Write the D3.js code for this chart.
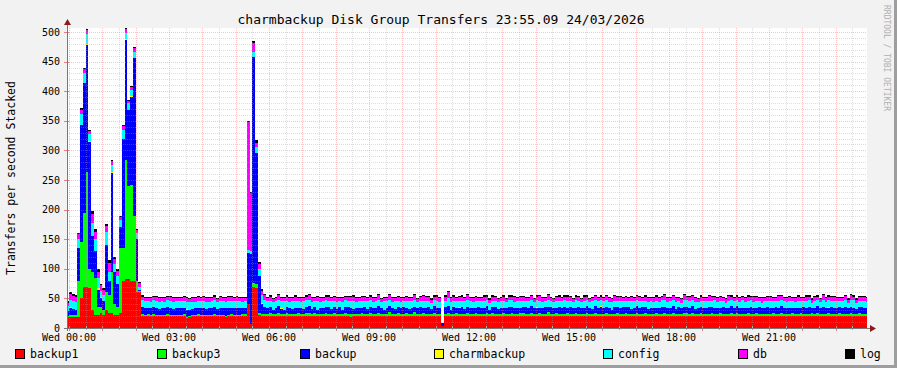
<!DOCTYPE html>
<html>
<head>
<meta charset="utf-8">
<script src="https://cdn.jsdelivr.net/npm/d3@7"></script>
<style>
  body { margin: 0; background: #f2f2f2; }
  svg { display: block; font-family: "DejaVu Sans Mono", monospace; }
</style>
</head>
<body>
<svg width="897" height="368"></svg>
<script>
// 5 minute steps, first one starts 5 min before Wed 00:00
const firstStep = -5;
const stepMinutes = 5;

const seriesNames = ["backup1", "backup3", "backup", "charmbackup", "config", "db", "log"];
const seriesColors = ["#ff0000", "#00ff00", "#0000ff", "#ffff00", "#00ffff", "#ff00ff", "#000000"];

const backup1 = [
  18,19,19,19,19,51,70,70,68,30,22,22,25,22,30,25,25,22,22,25,80,82,82,80,80,60,60,
  20,20,21,20,20,20,20,20,20,20,20,20,20,20,20,20,17,18,20,20,20,20,20,20,20,20,20,20,20,20,19,20,20,20,20,20,20,
  20,40,6,70,68,22,20,20,
  20,20,20,20,20,20,20,20,20,20,20,20,
  20,20,20,21,20,20,20,20,20,20,20,20,
  20,20,20,20,20,20,19,20,20,20,20,20,
  20,20,20,20,20,20,20,20,20,20,20,20,
  20,20,20,20,20,21,20,20,20,20,20,20,
  20,20,20,4,20,20,20,20,20,20,20,20,
  20,20,20,20,20,20,20,20,20,20,20,20,
  20,20,20,20,20,20,20,20,21,20,20,20,
  20,20,20,20,20,20,20,20,20,20,20,20,
  20,20,20,20,20,20,20,20,20,20,20,20,
  20,21,20,20,20,20,20,20,20,20,20,20,
  20,20,20,20,20,20,20,20,20,20,20,20,
  20,20,20,20,20,20,20,21,20,20,20,20,
  20,20,20,20,20,20,20,20,20,20,20,20,
  20,20,20,20,20,20,20,20,20,20,20,20,
  20,20,20,20,21,20,20,20,20,20,20,20,
  20,20,20,20,20,20,20,20,20,20,20,20,
  20,20,20,20,20,20,20,20,20,20,20,20,
  20
];

const backup3 = [
  2,3,3,3,61,94,124,193,32,65,63,13,10,8,30,30,70,18,13,110,55,202,158,161,110,20,2,
  3,2,2,2,3,2,2,2,2,3,2,2,2,2,2,3,2,2,2,2,3,2,2,2,2,2,3,2,2,2,2,2,3,2,2,2,3,
  3,0,0,6,6,4,4,4,
  4,5,3,4,6,3,4,5,3,4,4,5,
  3,4,6,4,3,5,4,3,4,6,3,4,
  5,3,4,4,6,3,5,4,3,4,5,3,
  4,6,3,4,5,3,4,4,7,3,4,5,
  3,4,5,4,3,6,4,3,5,4,4,3,
  5,4,3,0,4,6,3,4,5,3,4,4,
  6,3,4,5,3,4,4,6,3,5,4,3,
  4,5,3,4,6,4,3,5,4,3,4,6,
  3,4,5,3,4,7,4,3,5,4,3,4,
  5,4,3,6,4,3,4,5,3,4,6,3,
  4,3,5,4,3,4,6,4,3,5,4,4,
  3,6,4,3,5,4,3,4,5,3,4,6,
  4,3,5,4,4,3,6,4,3,5,4,3,
  5,4,3,4,6,3,4,5,4,3,4,5,
  3,5,4,3,4,6,4,3,5,4,3,4,
  4,3,6,4,3,5,4,4,3,6,4,3,
  5,4,3,4,5,3,6,4,3,4,5,4,
  3,4,5,3,4,4,6,3,4,5,3,4,
  4
];

const backup = [
  8,12,10,8,55,198,220,215,214,60,45,30,15,15,80,25,167,55,40,35,185,203,128,149,266,70,3,
  12,11,10,11,12,11,10,11,11,12,11,10,11,12,11,10,12,11,10,11,11,12,11,10,11,11,12,10,11,11,12,11,10,11,12,11,10,
  10,87,119,382,221,62,16,11,
  9,11,8,10,12,9,7,10,11,8,10,9,
  11,8,10,12,9,10,7,11,9,10,12,8,
  10,9,11,7,10,12,9,8,11,10,9,12,
  8,10,11,9,12,10,7,9,11,10,8,11,
  10,12,9,8,11,9,10,12,8,10,11,9,
  12,9,10,5,11,12,8,12,9,10,11,8,
  9,11,10,8,12,10,9,11,7,10,12,9,
  10,8,11,12,9,10,11,8,10,12,9,11,
  11,9,8,10,12,9,11,10,8,11,10,12,
  9,12,10,8,11,10,9,12,10,8,11,10,
  12,9,11,10,8,11,10,9,12,10,11,8,
  10,11,9,12,10,8,11,10,9,11,12,10,
  9,10,12,8,11,10,9,11,10,12,8,10,
  11,9,10,12,9,11,10,8,11,10,9,12,
  10,12,9,11,10,8,12,10,9,11,10,9,
  12,10,8,11,10,12,9,10,11,8,10,11,
  9,11,10,12,8,10,11,9,12,10,9,11,
  10,9,11,10,12,9,10,11,8,10,12,10,
  9
];

const charmbackup = [
  0,1,0,0,0,0,0,2,2,0,0,2,2,0,0,0,2,0,0,0,0,2,0,2,0,0,0,
  0,0,0,0,0,0,0,0,0,0,0,0,0,0,0,0,1,0,0,0,0,0,0,0,0,0,0,0,0,0,0,0,1,0,0,0,0,
  0,0,0,0,0,0,2,0,
  0,0,0,0,0,1,0,0,0,0,0,0,
  0,0,0,0,0,0,0,0,0,0,0,0,
  0,0,0,0,0,0,1,0,0,0,0,0,
  0,0,0,0,0,0,0,0,0,0,0,0,
  0,0,0,0,0,0,0,0,0,0,0,0,
  0,0,0,0,0,0,0,0,0,2,0,0,
  1,0,0,0,0,0,0,0,0,0,0,0,
  0,0,0,0,0,0,0,0,0,0,0,0,
  0,2,0,0,0,0,0,0,0,0,0,0,
  0,0,0,0,0,0,0,0,0,0,0,0,
  1,0,0,0,0,0,0,0,0,0,0,0,
  0,0,0,0,0,0,0,0,0,0,0,0,
  0,0,0,0,0,0,0,0,0,0,0,0,
  0,1,0,0,0,0,0,0,0,0,0,0,
  0,0,0,0,0,0,0,1,0,0,0,0,
  0,0,0,0,0,0,0,0,0,0,0,0,
  0,0,0,0,0,0,0,0,0,0,1,0,
  0,1,0,0,0,0,0,0,0,0,0,0,
  0
];

const config = [
  10,13,14,14,15,19,17,16,11,23,20,18,10,10,22,15,11,13,13,12,15,10,12,10,11,10,5,
  12,13,12,11,12,13,12,12,11,12,13,12,12,11,12,12,12,13,12,11,12,12,13,12,11,12,12,12,13,12,11,12,12,13,12,12,11,
  12,5,5,8,10,12,13,13,
  12,10,13,11,10,12,14,11,10,13,12,11,
  10,13,11,10,12,11,14,10,12,11,10,13,
  11,12,10,13,11,10,12,13,10,11,12,10,
  13,11,10,12,10,11,14,12,10,11,13,10,
  11,10,12,13,11,12,10,11,13,12,10,11,
  10,12,11,0,11,13,13,10,12,11,10,13,
  12,11,10,12,10,11,12,10,13,11,10,12,
  11,13,10,11,12,10,11,13,10,11,12,10,
  10,12,13,11,10,12,10,11,13,10,12,11,
  12,10,11,13,10,11,12,10,11,13,10,12,
  10,12,11,10,13,11,10,12,10,11,10,13,
  12,10,13,11,10,12,11,10,12,10,11,11,
  11,13,10,12,11,10,12,11,13,10,12,11,
  10,11,12,10,11,13,10,12,11,10,13,10,
  12,10,11,13,10,12,11,10,12,11,10,12,
  10,12,11,10,12,11,13,10,11,12,10,12,
  11,10,13,11,10,12,10,11,12,10,13,11,
  12,11,10,12,11,10,12,13,11,10,11,12,
  11
];

const db = [
  5,9,8,8,8,7,6,7,5,15,12,10,10,10,10,15,7,8,8,6,6,6,3,5,6,5,6,
  6,5,6,6,5,6,7,6,6,5,6,6,5,6,6,7,6,5,6,6,6,5,6,6,7,6,6,5,6,6,6,7,6,5,6,6,6,
  6,216,98,15,8,8,8,8,
  6,7,5,6,8,5,6,7,6,5,7,6,
  7,5,6,8,6,5,7,6,5,6,8,5,
  6,7,5,6,5,7,6,8,6,5,6,7,
  5,6,7,6,8,5,6,5,7,6,5,6,
  7,5,6,5,6,7,5,6,8,6,7,5,
  6,8,6,0,7,10,6,7,5,6,8,6,
  7,5,6,7,5,6,8,6,5,7,6,5,
  6,7,5,6,6,8,5,6,7,5,6,7,
  5,6,8,6,5,7,6,5,6,8,5,6,
  7,6,5,6,7,5,8,6,5,6,7,6,
  6,5,7,6,5,8,6,7,5,6,6,7,
  5,7,6,5,8,6,5,6,7,6,5,8,
  6,5,7,6,5,6,8,5,6,7,6,5,
  7,6,5,8,6,5,6,7,5,6,8,6,
  5,6,7,5,6,7,5,8,6,5,7,6,
  6,7,5,6,8,6,5,6,7,5,6,7,
  6,5,7,6,5,7,6,5,8,6,5,6,
  7,6,5,6,7,5,8,6,5,7,6,6,
  6
];

const log = [
  2,3,3,3,3,2,2,2,2,4,5,5,3,3,4,5,2,4,4,2,2,2,2,2,2,2,2,
  2,2,2,2,2,2,2,2,2,2,2,2,2,2,2,2,2,2,2,2,2,2,2,2,2,2,2,2,2,2,2,2,2,2,2,2,2,
  2,2,2,3,4,4,3,2,
  2,2,2,2,2,2,2,2,2,2,2,2,
  2,2,2,2,2,2,2,2,2,2,2,2,
  2,2,2,2,2,2,2,2,2,2,2,2,
  2,2,2,2,2,2,2,2,2,2,2,2,
  2,2,2,2,2,2,2,2,2,2,2,2,
  2,2,2,0,2,2,2,2,2,2,2,2,
  2,2,2,2,2,2,2,2,2,2,2,2,
  2,2,2,2,2,2,2,2,2,2,2,2,
  2,2,2,2,2,2,2,2,2,2,2,2,
  2,2,2,2,2,2,2,2,2,2,2,2,
  2,2,2,2,2,2,2,2,2,2,2,2,
  2,2,2,2,2,2,2,2,2,2,2,2,
  2,2,2,2,2,2,2,2,2,2,2,2,
  2,2,2,2,2,2,2,2,2,2,2,2,
  2,2,2,2,2,2,2,2,2,2,2,2,
  2,2,2,2,2,2,2,2,2,2,2,2,
  2,2,2,2,2,2,2,2,2,2,2,2,
  2,2,2,2,2,2,2,2,2,2,2,2,
  2
];

const yTickValues = [0, 50, 100, 150, 200, 250, 300, 350, 400, 450, 500];
const xLabelHours = [0, 3, 6, 9, 12, 15, 18, 21];
const xLabelDay = "Wed";

const svg = d3.select("svg");
const W = 897, H = 368;
const plot = { left: 67, right: 867, top: 28, bottom: 328 };

// background + frame
svg.append("rect").attr("width", W).attr("height", H).attr("fill", "#f2f2f2");
svg.append("rect").attr("x", W - 3).attr("y", 0).attr("width", 3).attr("height", H).attr("fill", "#9e9e9e");
svg.append("rect").attr("x", 0).attr("y", H - 3).attr("width", W).attr("height", 3).attr("fill", "#9e9e9e");
svg.append("rect")
  .attr("x", plot.left).attr("y", plot.top)
  .attr("width", plot.right - plot.left).attr("height", plot.bottom - plot.top)
  .attr("fill", "#ffffff");

const x = d3.scaleLinear().domain([-3.6, 1436.4]).range([plot.left, plot.right]);
const y = d3.scaleLinear().domain([0, 300 / 0.592]).range([plot.bottom, plot.top]);

const columns = [backup1, backup3, backup, charmbackup, config, db, log];
const n = backup1.length;
const rows = d3.range(n + 1).map(k => {
  const i = Math.min(k, n - 1);
  const row = { t: firstStep + k * stepMinutes };
  seriesNames.forEach((name, s) => { row[name] = columns[s][i]; });
  return row;
});
const stacked = d3.stack().keys(seriesNames)(rows);

svg.append("clipPath").attr("id", "plotclip")
  .append("rect")
  .attr("x", plot.left).attr("y", 0)
  .attr("width", plot.right - plot.left).attr("height", plot.bottom);

const area = d3.area()
  .curve(d3.curveStepAfter)
  .x(d => x(d.data.t))
  .y0(d => y(d[0]))
  .y1(d => y(d[1]));

svg.append("g")
  .attr("clip-path", "url(#plotclip)")
  .selectAll("path")
  .data(stacked)
  .join("path")
  .attr("d", area)
  .attr("fill", (d, i) => seriesColors[i])
  .attr("shape-rendering", "crispEdges");

// grid drawn on top of the data, like rrdtool
const grid = svg.append("g").attr("shape-rendering", "crispEdges");
const minorCol = "rgba(160,160,160,0.35)";
const majorCol = "rgba(255,100,100,0.4)";

d3.range(10, 501, 10).forEach(v => {
  const yy = Math.round(y(v)) + 0.5;
  grid.append("line")
    .attr("x1", plot.left).attr("x2", plot.right)
    .attr("y1", yy).attr("y2", yy)
    .attr("stroke", v % 50 === 0 ? majorCol : minorCol)
    .attr("stroke-dasharray", "1,1");
});

d3.range(0, 1436, 30).forEach(t => {
  const xx = Math.round(x(t)) + 0.5;
  const major = t % 60 === 0;
  grid.append("line")
    .attr("x1", xx).attr("x2", xx)
    .attr("y1", plot.top).attr("y2", plot.bottom)
    .attr("stroke", major ? majorCol : minorCol)
    .attr("stroke-dasharray", "1,1");
  grid.append("line")
    .attr("x1", xx).attr("x2", xx)
    .attr("y1", plot.bottom - 2).attr("y2", plot.bottom + (major ? 3 : 2))
    .attr("stroke", major ? "#e08080" : "#b0b0b0");
});

yTickValues.forEach(v => {
  const yy = Math.round(y(v)) + 0.5;
  grid.append("line")
    .attr("x1", plot.left - 3).attr("x2", plot.left + 2)
    .attr("y1", yy).attr("y2", yy)
    .attr("stroke", "#e08080");
});

// axes with arrows
const axisCol = "#777777";
svg.append("line")
  .attr("x1", plot.left - 3).attr("x2", plot.right + 4)
  .attr("y1", plot.bottom + 0.5).attr("y2", plot.bottom + 0.5)
  .attr("stroke", axisCol).attr("shape-rendering", "crispEdges");
svg.append("line")
  .attr("x1", plot.left + 0.5).attr("x2", plot.left + 0.5)
  .attr("y1", plot.bottom + 3).attr("y2", plot.top - 4)
  .attr("stroke", axisCol).attr("shape-rendering", "crispEdges");
svg.append("path")
  .attr("d", `M${plot.right + 3},${plot.bottom - 3}L${plot.right + 9},${plot.bottom + 0.5}L${plot.right + 3},${plot.bottom + 4}Z`)
  .attr("fill", "#8b1a1a");
svg.append("path")
  .attr("d", `M${plot.left - 3},${plot.top - 3}L${plot.left + 0.5},${plot.top - 9}L${plot.left + 4},${plot.top - 3}Z`)
  .attr("fill", "#8b1a1a");

// tick labels
svg.append("g")
  .selectAll("text")
  .data(yTickValues)
  .join("text")
  .attr("x", 60)
  .attr("y", d => y(d) + 3.5)
  .attr("text-anchor", "end")
  .style("font-size", "10px")
  .text(d => d);

svg.append("g")
  .selectAll("text")
  .data(xLabelHours)
  .join("text")
  .attr("x", d => x(d * 60))
  .attr("y", 341)
  .attr("text-anchor", "middle")
  .style("font-size", "10px")
  .text(d => `${xLabelDay} ${String(d).padStart(2, "0")}:00`);

// titles
svg.append("text")
  .attr("x", 441)
  .attr("y", 24)
  .attr("text-anchor", "middle")
  .style("font-size", "13px")
  .text("charmbackup Disk Group Transfers 23:55.09 24/03/2026");

svg.append("text")
  .attr("transform", "translate(15,178) rotate(-90)")
  .attr("text-anchor", "middle")
  .style("font-size", "11.5px")
  .text("Transfers per second Stacked");

svg.append("text")
  .attr("transform", "translate(884,5) rotate(90)")
  .attr("text-anchor", "start")
  .style("font-size", "8px")
  .attr("fill", "#b0b0b0")
  .text("RRDTOOL / TOBI OETIKER");

// legend
const legendX = [15, 157, 300, 434, 603, 738, 845];
const legend = svg.append("g");
seriesNames.forEach((name, i) => {
  const row = legend.append("g").attr("transform", `translate(${legendX[i]},0)`);
  row.append("rect")
    .attr("x", 0.5).attr("y", 349.5)
    .attr("width", 9).attr("height", 9)
    .attr("fill", seriesColors[i])
    .attr("stroke", "#000");
  row.append("text")
    .attr("x", 15)
    .attr("y", 358)
    .style("font-size", "11.5px")
    .text(name);
});
</script>
</body>
</html>
